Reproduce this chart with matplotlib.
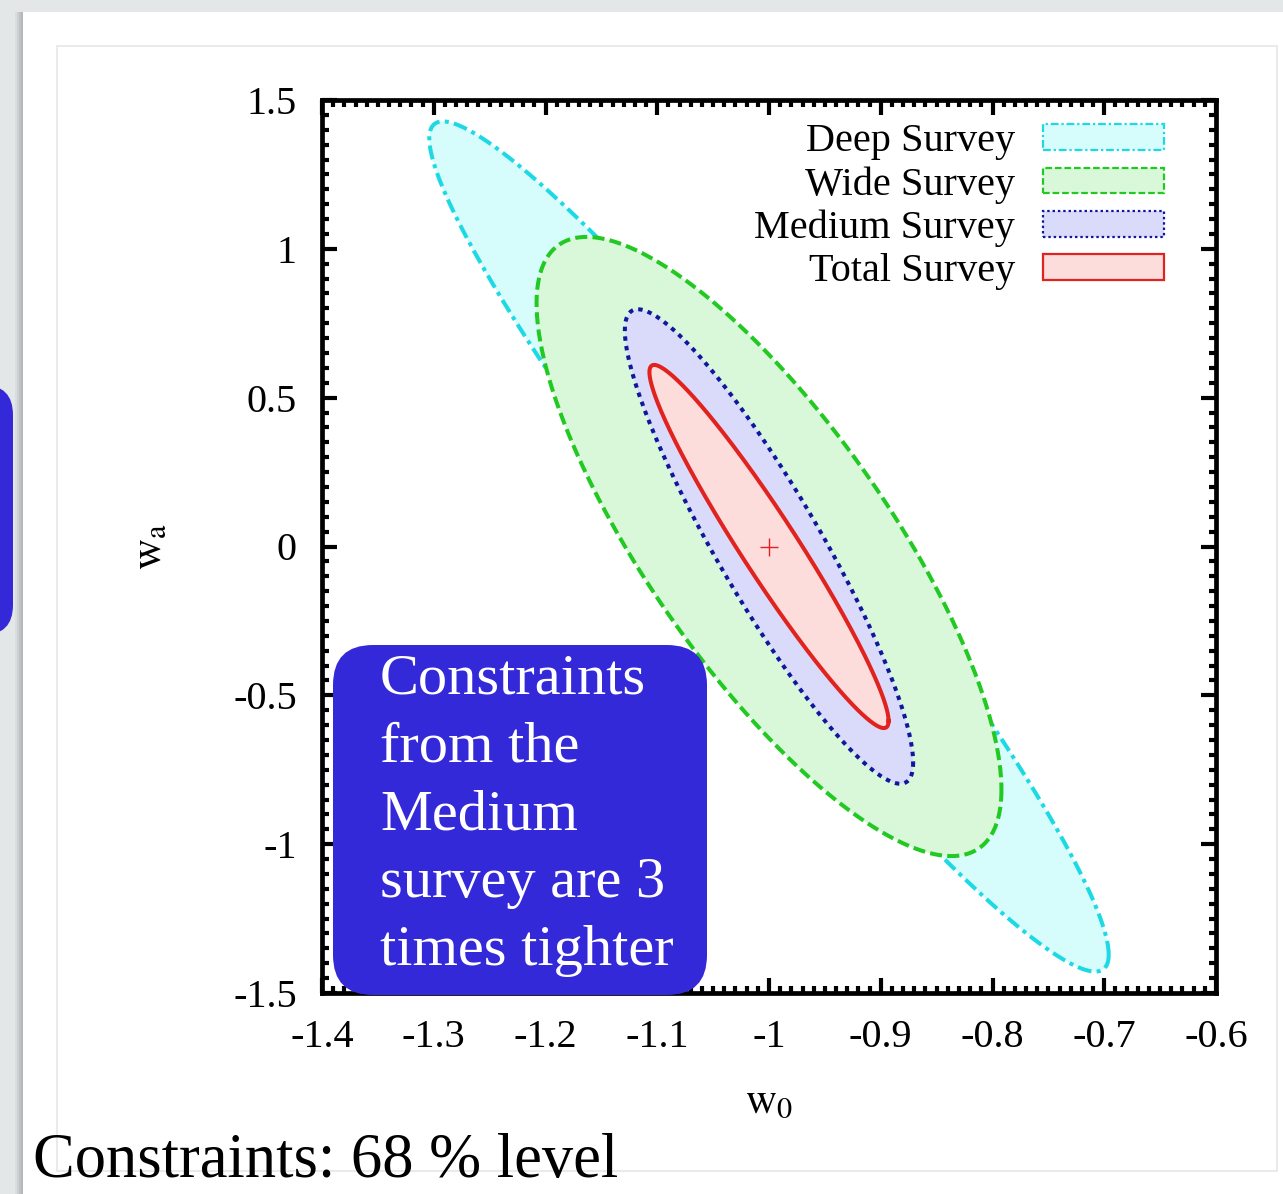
"""
68% confidence ellipses in the (w0, wa) plane for the survey configurations.
"""

import numpy as np
import matplotlib.pyplot as plt
from matplotlib.patches import FancyBboxPatch, Rectangle, Patch
from matplotlib.ticker import MultipleLocator

W, H = 1283, 1194

surveys = ["Deep Survey", "Wide Survey", "Medium Survey", "Total Survey"]
w0_err = [0.304, 0.208, 0.129, 0.107]   # half-extent of each contour along w0
wa_err = [1.428, 1.040, 0.797, 0.610]   # half-extent along wa
corr = [-0.96, -0.785, -0.91, -0.96]    # w0-wa correlation
w0_fid, wa_fid = -1.0, 0.0

x_ticks = [-1.4, -1.3, -1.2, -1.1, -1.0, -0.9, -0.8, -0.7, -0.6]
x_tick_labels = ["-1.4", "-1.3", "-1.2", "-1.1", "-1", "-0.9", "-0.8", "-0.7", "-0.6"]
y_ticks = [-1.5, -1.0, -0.5, 0.0, 0.5, 1.0, 1.5]
y_tick_labels = ["-1.5", "-1", "-0.5", "0", "0.5", "1", "1.5"]

edge_colors = ["#1dd9e3", "#22c922", "#0d189c", "#e0231f"]
fill_colors = ["#d7fcfc", "#d9f8d9", "#dadafa", "#fddcdc"]
line_styles = [(0, (3.5, 1.3, 1, 1.3)), (0, (3, 1.3)), (0, (1.1, 1.3)), "-"]

note = "Constraints\nfrom the\nMedium\nsurvey are 3\ntimes tighter"
caption = "Constraints: 68 % level"


def ellipse(sx, sy, rho, n=500):
    t = np.linspace(0, 2 * np.pi, n)
    phi = np.arccos(rho)
    return w0_fid + sx * np.cos(t), wa_fid + sy * np.cos(t + phi)


def main():
    plt.rcParams["font.family"] = ["Liberation Serif", "DejaVu Serif"]
    plt.rcParams["mathtext.fontset"] = "stix"

    fig = plt.figure(figsize=(W / 100, H / 100), dpi=100, facecolor="#e3e7e7")

    # slide background, shadow and frame (pixel coordinates)
    bg = fig.add_axes([0, 0, 1, 1], zorder=0)
    bg.set_xlim(0, W)
    bg.set_ylim(H, 0)
    bg.axis("off")
    for i, c in enumerate(["#d9dddd", "#ccd0d0", "#bfc3c3", "#b4b8b8"]):
        bg.add_patch(Rectangle((15 + 2 * i, 12), 2, H, color=c, lw=0))
    bg.add_patch(Rectangle((23, 12), W - 23, H, color="white", lw=0))
    bg.add_patch(Rectangle((57, 46), 1220, 1125, fill=False, ec="#e6e6e6", lw=1.2))
    bg.add_patch(FancyBboxPatch((-60, 415), 43, 190,
                                boxstyle="round,pad=30,rounding_size=30",
                                fc="#3429d8", ec="none"))

    ax = fig.add_axes([322 / W, 1 - 993 / H, 894 / W, 893 / H], zorder=1)
    ax.set_facecolor("white")

    for i in range(len(surveys)):
        x, y = ellipse(w0_err[i], wa_err[i], corr[i])
        ax.fill(x, y, color=fill_colors[i], lw=0, zorder=2 + i)
        ax.plot(x, y, color=edge_colors[i], ls=line_styles[i], lw=2.9, zorder=2 + i)
    ax.plot(w0_fid, wa_fid, marker="+", color="#e0231f", ms=13, mew=1.0, zorder=10)

    ax.set_xlim(-1.4, -0.6)
    ax.set_ylim(-1.5, 1.5)
    ax.set_xticks(x_ticks, x_tick_labels)
    ax.set_yticks(y_ticks, y_tick_labels)
    ax.xaxis.set_minor_locator(MultipleLocator(0.01))
    ax.yaxis.set_minor_locator(MultipleLocator(0.05))
    ax.tick_params(which="both", direction="in", top=True, right=True,
                   width=3.0, labelsize=29)
    ax.tick_params(which="major", length=11)
    ax.tick_params(which="minor", length=5)
    ax.tick_params(axis="x", pad=19)
    ax.tick_params(axis="y", pad=18)
    for s in ax.spines.values():
        s.set_linewidth(3.4)

    ax.set_xlabel(r"$\mathrm{w}_{0}$", fontsize=31)
    ax.xaxis.set_label_coords(0.5, -0.10)
    ax.set_ylabel(r"$\mathrm{w}_{\mathrm{a}}$", fontsize=31)
    ax.yaxis.set_label_coords(-0.17, 0.5)

    handles = [Patch(fc=fill_colors[i], ec=edge_colors[i], ls=line_styles[i], lw=1.6)
               for i in range(len(surveys))]
    ax.legend(handles, surveys, loc="upper right", bbox_to_anchor=(0.942, 0.974),
              frameon=False, markerfirst=False, fontsize=29, handlelength=3.0,
              handleheight=0.6, handletextpad=0.7, labelspacing=0.15,
              borderpad=0, borderaxespad=0)

    # annotation box and caption on top of the plot
    fg = fig.add_axes([0, 0, 1, 1], zorder=2)
    fg.set_xlim(0, W)
    fg.set_ylim(H, 0)
    fg.axis("off")
    fg.patch.set_alpha(0)
    fg.add_patch(FancyBboxPatch((373, 685), 294, 270,
                                boxstyle="round,pad=40,rounding_size=40",
                                fc="#3429d8", ec="none"))
    fg.text(380, 815, note, color="white", fontsize=42, ha="left", va="center",
            linespacing=1.40)
    fg.text(33, 1177, caption, color="black", fontsize=45, ha="left", va="baseline")

    fig.savefig("out.png", dpi=100, facecolor=fig.get_facecolor())


if __name__ == "__main__":
    main()
